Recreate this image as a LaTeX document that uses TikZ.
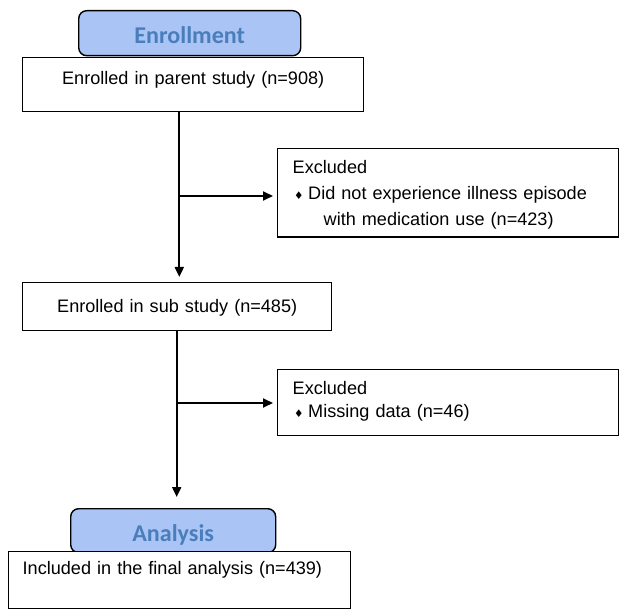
\documentclass[tikz,border=0pt]{standalone}
\usepackage{fontspec}
\setmainfont{Liberation Sans}
\newfontfamily\headfont{Carlito}
\newfontfamily\symfont{DejaVu Sans}
\usetikzlibrary{positioning, arrows.meta}
\definecolor{headfill}{HTML}{A9C4F5}
\definecolor{headtext}{HTML}{4A7EBB}
\newcommand{\bul}{\makebox[0.31cm][l]{\hspace{0.03cm}{\symfont\fontsize{6}{6}\selectfont ♦}}}

\begin{document}
\begin{tikzpicture}[
    arrow/.style={-{Triangle[length=2mm, width=1.8mm]}, line width=1.1pt},
    box/.style={draw, line width=0.8pt, fill=white, inner sep=0pt, anchor=north west,
        font=\fontsize{10.3}{14.6}\selectfont},
    header/.style={draw, line width=0.8pt, rounded corners=1.6mm, fill=headfill, text=headtext,
        anchor=north west, inner sep=0pt, text height=0.42cm, text depth=0cm,
        font=\headfont\bfseries\fontsize{13.7}{16}\selectfont}
]
    \useasboundingbox (0,0) rectangle (12.5,-12.28);

    % Phase headers
    \node[header, minimum width=4.44cm, minimum height=0.9cm] (enroll) at (1.56,-0.2) {Enrollment};
    \node[header, minimum width=4.1cm, minimum height=0.88cm] (analysis) at (1.4,-10.16) {Analysis};

    % Main boxes
    \node[box, text width=6.82cm, align=center, text height=0.53cm, text depth=0.55cm]
        (parent) at (0.44,-1.14) {Enrolled in parent study (n=908)};
    \node[box, text width=6.18cm, align=center, text height=0.6cm, text depth=0.36cm]
        (sub) at (0.44,-5.64) {Enrolled in sub study (n=485)};
    \node[box, inner xsep=0.28cm, text width=6.28cm, align=left, text height=0.46cm, text depth=0.68cm]
        (final) at (0.16,-11.02) {Included in the final analysis (n=439)};

    % Exclusion boxes
    \node[box, inner xsep=0.3cm, text width=6.22cm, align=left, text height=0.5cm, text depth=1.27cm]
        (excl1) at (5.54,-2.96) {Excluded\\ \bul Did not experience illness episode\\
        \hspace*{0.62cm}with medication use (n=423)};
    \node[box, inner xsep=0.3cm, text width=6.22cm, align=left, text height=0.49cm, text depth=0.83cm,
        font=\fontsize{10.3}{13.4}\selectfont]
        (excl2) at (5.54,-7.38) {Excluded\\ \bul Missing data (n=46)};

    % Flow
    \coordinate (trunk1) at (3.586,-3.92);
    \coordinate (trunk2) at (3.534,-8.06);
    \draw[arrow, shorten >=0.1cm] (parent.south -| trunk1) -- (sub.north -| trunk1);
    \draw[arrow, shorten >=0.08cm] (trunk1) -- (trunk1 -| excl1.west);
    \draw[arrow, shorten >=0.22cm] (sub.south -| trunk2) -- (analysis.north -| trunk2);
    \draw[arrow, shorten >=0.08cm] (trunk2) -- (trunk2 -| excl2.west);

\end{tikzpicture}
\end{document}
